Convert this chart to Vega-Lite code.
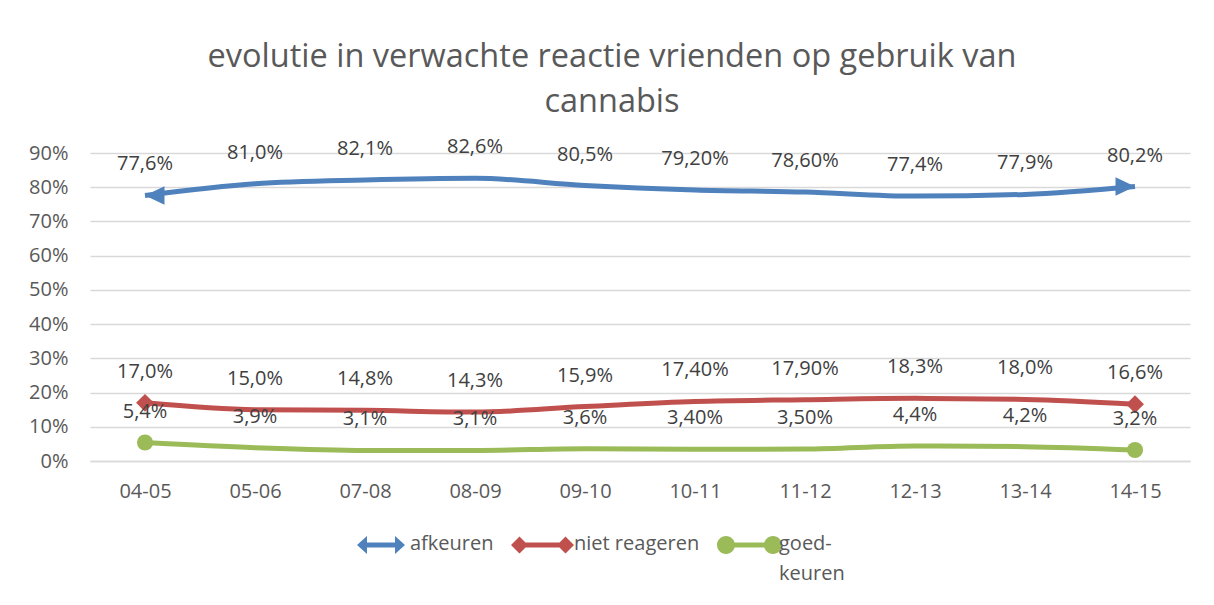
{
  "$schema": "https://vega.github.io/schema/vega-lite/v6.json",
  "autosize": "none",
  "width": 1100,
  "height": 308,
  "padding": {"left": 90, "top": 153, "right": 24, "bottom": 144},
  "background": "white",
  "title": {
    "text": ["evolutie in verwachte reactie vrienden op gebruik van", "cannabis"],
    "font": "Open Sans",
    "fontSize": 32.5,
    "fontWeight": "normal",
    "color": "#595959",
    "lineHeight": 45,
    "anchor": "middle",
    "dx": -28,
    "offset": 19
  },
  "config": {
    "view": {"stroke": null},
    "font": "Open Sans"
  },
  "data": {
    "values": [
      {"jaar": "04-05", "reeks": "afkeuren", "waarde": 77.6, "label": "77,6%"},
      {"jaar": "05-06", "reeks": "afkeuren", "waarde": 81.0, "label": "81,0%"},
      {"jaar": "07-08", "reeks": "afkeuren", "waarde": 82.1, "label": "82,1%"},
      {"jaar": "08-09", "reeks": "afkeuren", "waarde": 82.6, "label": "82,6%"},
      {"jaar": "09-10", "reeks": "afkeuren", "waarde": 80.5, "label": "80,5%"},
      {"jaar": "10-11", "reeks": "afkeuren", "waarde": 79.2, "label": "79,20%"},
      {"jaar": "11-12", "reeks": "afkeuren", "waarde": 78.6, "label": "78,60%"},
      {"jaar": "12-13", "reeks": "afkeuren", "waarde": 77.4, "label": "77,4%"},
      {"jaar": "13-14", "reeks": "afkeuren", "waarde": 77.9, "label": "77,9%"},
      {"jaar": "14-15", "reeks": "afkeuren", "waarde": 80.2, "label": "80,2%"},
      {"jaar": "04-05", "reeks": "niet reageren", "waarde": 17.0, "label": "17,0%"},
      {"jaar": "05-06", "reeks": "niet reageren", "waarde": 15.0, "label": "15,0%"},
      {"jaar": "07-08", "reeks": "niet reageren", "waarde": 14.8, "label": "14,8%"},
      {"jaar": "08-09", "reeks": "niet reageren", "waarde": 14.3, "label": "14,3%"},
      {"jaar": "09-10", "reeks": "niet reageren", "waarde": 15.9, "label": "15,9%"},
      {"jaar": "10-11", "reeks": "niet reageren", "waarde": 17.4, "label": "17,40%"},
      {"jaar": "11-12", "reeks": "niet reageren", "waarde": 17.9, "label": "17,90%"},
      {"jaar": "12-13", "reeks": "niet reageren", "waarde": 18.3, "label": "18,3%"},
      {"jaar": "13-14", "reeks": "niet reageren", "waarde": 18.0, "label": "18,0%"},
      {"jaar": "14-15", "reeks": "niet reageren", "waarde": 16.6, "label": "16,6%"},
      {"jaar": "04-05", "reeks": "goed-keuren", "waarde": 5.4, "label": "5,4%"},
      {"jaar": "05-06", "reeks": "goed-keuren", "waarde": 3.9, "label": "3,9%"},
      {"jaar": "07-08", "reeks": "goed-keuren", "waarde": 3.1, "label": "3,1%"},
      {"jaar": "08-09", "reeks": "goed-keuren", "waarde": 3.1, "label": "3,1%"},
      {"jaar": "09-10", "reeks": "goed-keuren", "waarde": 3.6, "label": "3,6%"},
      {"jaar": "10-11", "reeks": "goed-keuren", "waarde": 3.4, "label": "3,40%"},
      {"jaar": "11-12", "reeks": "goed-keuren", "waarde": 3.5, "label": "3,50%"},
      {"jaar": "12-13", "reeks": "goed-keuren", "waarde": 4.4, "label": "4,4%"},
      {"jaar": "13-14", "reeks": "goed-keuren", "waarde": 4.2, "label": "4,2%"},
      {"jaar": "14-15", "reeks": "goed-keuren", "waarde": 3.2, "label": "3,2%"}
    ]
  },
  "encoding": {
    "x": {
      "field": "jaar",
      "type": "ordinal",
      "sort": null,
      "scale": {"type": "point", "padding": 0.5},
      "axis": {
        "title": null,
        "labelAngle": 0,
        "labelFontSize": 20,
        "labelColor": "#595959",
        "labelFont": "Open Sans",
        "labelPadding": 20,
        "ticks": false,
        "domain": true,
        "domainColor": "#d9d9d9",
        "domainWidth": 1.5,
        "grid": false
      }
    },
    "y": {
      "field": "waarde",
      "type": "quantitative",
      "scale": {"domain": [0, 90], "nice": false},
      "axis": {
        "title": null,
        "values": [0, 10, 20, 30, 40, 50, 60, 70, 80, 90],
        "labelExpr": "datum.value + '%'",
        "labelFontSize": 20,
        "labelColor": "#595959",
        "labelFont": "Open Sans",
        "labelPadding": 22,
        "ticks": false,
        "domain": false,
        "grid": true,
        "gridColor": "#d9d9d9",
        "gridWidth": 1.5
      }
    }
  },
  "layer": [
    {
      "mark": {"type": "line", "strokeWidth": 5, "interpolate": "monotone"},
      "encoding": {
        "color": {
          "field": "reeks",
          "type": "nominal",
          "scale": {
            "domain": ["afkeuren", "niet reageren", "goed-keuren"],
            "range": ["#4F81BD", "#C0504D", "#9BBB59"]
          },
          "legend": {
            "title": null,
            "orient": "none",
            "direction": "horizontal",
            "legendX": 268,
            "legendY": 367,
            "symbolSize": 2500,
            "symbolType": "circle",
            "labelFontSize": 20,
            "labelColor": "#595959",
            "labelFont": "Open Sans",
            "labelOffset": 2,
            "labelBaseline": "top",
            "columnPadding": 17,
            "labelExpr": "datum.label == 'goed-keuren' ? ['goed-', 'keuren'] : [datum.label, ' ']",
            "encode": {
              "symbols": {
                "update": {
                  "shape": {"signal": "datum.value == 'afkeuren' ? 'M-1.04,0L-0.64,-0.36L-0.64,-0.1L0.48,-0.1L0.48,-0.36L0.88,0L0.48,0.36L0.48,0.1L-0.64,0.1L-0.64,0.36Z' : datum.value == 'niet reageren' ? 'M-1.44,0L-1.1,-0.34L-0.76,0L-1.1,0.34ZM0.4,0L0.74,-0.34L1.08,0L0.74,0.34ZM-0.9,-0.1L0.6,-0.1L0.6,0.1L-0.9,0.1Z' : 'M-1.4,0A0.36,0.36 0 1,1 -0.68,0A0.36,0.36 0 1,1 -1.4,0ZM0.48,0A0.36,0.36 0 1,1 1.2,0A0.36,0.36 0 1,1 0.48,0ZM-0.72,-0.1L0.52,-0.1L0.52,0.1L-0.72,0.1Z'"},
                  "fill": {"scale": "color", "field": "value"},
                  "stroke": {"value": "transparent"},
                  "strokeWidth": {"value": 0},
                  "size": {"value": 2500},
                  "opacity": {"value": 1}
                }
              },
              "labels": {
                "update": {
                  "lineHeight": {"value": 30},
                  "dy": {"value": -11}
                }
              }
            }
          }
        }
      }
    },
    {
      "transform": [{"filter": "datum.jaar == '04-05'"}],
      "mark": {"type": "point", "filled": true, "opacity": 1},
      "encoding": {
        "color": {"field": "reeks", "type": "nominal", "legend": null},
        "shape": {
          "field": "reeks",
          "type": "nominal",
          "legend": null,
          "scale": {
            "domain": ["afkeuren", "niet reageren", "goed-keuren"],
            "range": ["M0,0L2,-0.95L2,0.95Z", "diamond", "circle"]
          }
        },
        "size": {
          "field": "reeks",
          "type": "nominal",
          "legend": null,
          "scale": {
            "domain": ["afkeuren", "niet reageren", "goed-keuren"],
            "range": [380, 260, 300]
          }
        }
      }
    },
    {
      "transform": [{"filter": "datum.jaar == '14-15'"}],
      "mark": {"type": "point", "filled": true, "opacity": 1},
      "encoding": {
        "color": {"field": "reeks", "type": "nominal", "legend": null},
        "shape": {
          "field": "reeks",
          "type": "nominal",
          "legend": null,
          "scale": {
            "domain": ["afkeuren", "niet reageren", "goed-keuren"],
            "range": ["M0,0L-2,-0.95L-2,0.95Z", "diamond", "circle"]
          }
        },
        "size": {
          "field": "reeks",
          "type": "nominal",
          "legend": null,
          "scale": {
            "domain": ["afkeuren", "niet reageren", "goed-keuren"],
            "range": [380, 260, 300]
          }
        }
      }
    },
    {
      "mark": {"type": "text", "dy": -31, "fontSize": 20, "color": "#404040", "font": "Open Sans"},
      "encoding": {
        "text": {"field": "label"}
      }
    }
  ],
  "resolve": {"scale": {"shape": "independent", "size": "independent"}}
}
